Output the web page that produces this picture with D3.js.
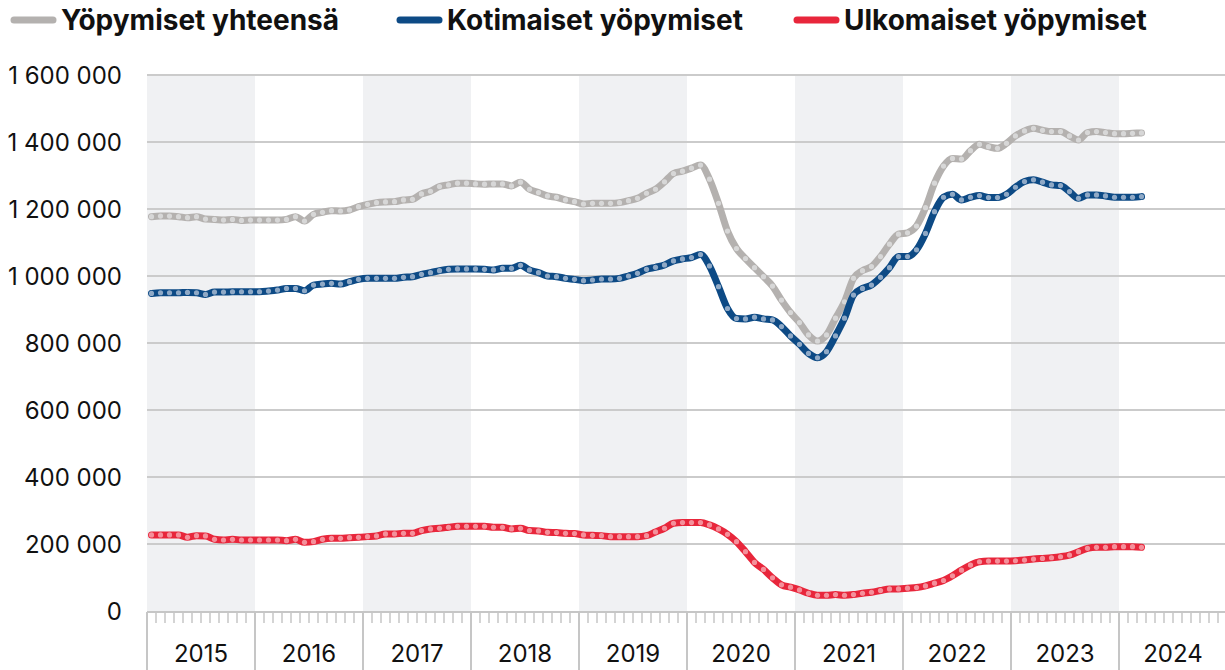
<!DOCTYPE html>
<html lang="fi">
<head>
<meta charset="utf-8">
<title>Yöpymiset</title>
<script src="https://d3js.org/d3.v7.min.js"></script>
<style>
  body { margin: 0; background: #fff; }
  text { font-family: Inter, "Noto Sans", sans-serif; }
</style>
</head>
<body>
<script>
// monthly values, thousands, Jan 2015 - Mar 2024
var years = [2015, 2016, 2017, 2018, 2019, 2020, 2021, 2022, 2023, 2024];

var yhteensa = [
  1177,1179,1179,1177,1174,1177,1170,1169,1167,1169,1166,1167,
  1167,1167,1167,1169,1177,1164,1184,1190,1195,1194,1197,1207,
  1214,1219,1221,1222,1227,1229,1245,1253,1267,1272,1277,1277,
  1275,1274,1275,1275,1269,1280,1259,1249,1239,1235,1227,1222,
  1215,1217,1217,1217,1219,1225,1232,1247,1259,1281,1306,1313,
  1322,1331,1289,1217,1134,1082,1052,1025,998,970,928,891,
  861,824,806,824,874,923,993,1016,1028,1058,1095,1125,
  1129,1149,1204,1277,1328,1351,1349,1374,1393,1386,1381,1396,
  1418,1433,1441,1435,1431,1431,1418,1406,1428,1431,1428,1425,
  1425,1426,1427
];

var kotimaiset = [
  948,950,950,950,951,950,945,952,952,953,953,953,
  953,955,958,963,963,956,973,976,978,976,983,990,
  993,993,993,993,996,998,1005,1010,1016,1020,1021,1021,
  1021,1020,1018,1023,1023,1032,1018,1010,1000,998,993,990,
  986,988,991,991,993,1000,1008,1020,1026,1033,1045,1051,
  1055,1064,1030,968,903,873,872,877,872,869,849,821,
  796,769,756,774,821,874,943,963,973,996,1025,1058,
  1058,1078,1127,1192,1235,1244,1227,1235,1240,1234,1234,1244,
  1265,1282,1287,1280,1272,1270,1252,1232,1242,1242,1239,1235,
  1235,1235,1237
];

var ulkomaiset = [
  227,227,227,227,220,225,224,214,212,214,212,212,
  212,212,212,210,214,205,207,214,217,217,219,220,
  222,224,230,230,232,232,240,245,247,250,253,253,
  253,253,250,250,245,247,240,239,235,234,232,231,
  227,226,225,222,222,222,222,225,236,247,262,264,
  264,264,257,245,229,207,177,145,124,99,78,71,
  63,53,47,47,49,47,49,53,56,61,66,66,
  68,70,75,83,91,105,122,137,147,149,149,149,
  150,152,155,157,159,162,167,177,187,190,190,192,
  192,192,190
];

var seriesNames = ["Yöpymiset yhteensä", "Kotimaiset yöpymiset", "Ulkomaiset yöpymiset"];
var yTicks = [0, 200000, 400000, 600000, 800000, 1000000, 1200000, 1400000, 1600000];

var width = 1225, height = 670;
var plotLeft = 147, plotRight = 1227, plotTop = 75, plotBottom = 611;

var svg = d3.select("body").append("svg")
  .attr("width", width)
  .attr("height", height);

var x = d3.scaleLinear().domain([0, years.length * 12]).range([plotLeft, plotRight]);
var y = d3.scaleLinear().domain([0, 1600000]).range([plotBottom, plotTop]);

var fi = d3.formatLocale({ decimal: ",", thousands: " ", grouping: [3], currency: ["", " €"] });
var fmt = fi.format(",d");

// alternating year bands
svg.append("g").selectAll("rect")
  .data(years.filter(function(d, i) { return i % 2 == 0; }))
  .enter().append("rect")
  .attr("x", function(d) { return x((d - 2015) * 12); })
  .attr("width", function(d) { return x(12) - x(0); })
  .attr("y", plotTop)
  .attr("height", plotBottom - plotTop + 1)
  .attr("fill", "#f0f1f3");

// gridlines
svg.append("g").selectAll("line")
  .data(yTicks.slice(1))
  .enter().append("line")
  .attr("x1", plotLeft).attr("x2", width)
  .attr("y1", function(d) { return y(d); })
  .attr("y2", function(d) { return y(d); })
  .attr("stroke", "#cbcbcb")
  .attr("stroke-width", 2);

// y labels
svg.append("g").selectAll("text")
  .data(yTicks)
  .enter().append("text")
  .attr("x", 122)
  .attr("y", function(d) { return y(d); })
  .attr("dy", "0.36em")
  .attr("text-anchor", "end")
  .attr("font-size", 24)
  .attr("fill", "#111")
  .text(function(d) { return fmt(d); });

// x axis: month ticks, year lines, year labels
var axisY = plotBottom + 1;
svg.append("g").selectAll("line")
  .data(d3.range(0, years.length * 12 + 1))
  .enter().append("line")
  .attr("x1", function(d) { return x(d); })
  .attr("x2", function(d) { return x(d); })
  .attr("y1", axisY)
  .attr("y2", function(d) { return d % 12 == 0 ? height : axisY + 11; })
  .attr("stroke", "#c6c6c6")
  .attr("stroke-width", function(d) { return d % 12 == 0 ? 2 : 1.5; });

svg.append("line")
  .attr("x1", plotLeft).attr("x2", width)
  .attr("y1", axisY).attr("y2", axisY)
  .attr("stroke", "#c6c6c6")
  .attr("stroke-width", 2);

svg.append("g").selectAll("text")
  .data(years)
  .enter().append("text")
  .attr("x", function(d) { return x((d - 2015) * 12 + 6); })
  .attr("y", 653)
  .attr("dy", "0.36em")
  .attr("text-anchor", "middle")
  .attr("font-size", 24)
  .attr("fill", "#111")
  .text(function(d) { return d; });

// lines
var series = [
  { name: seriesNames[0], values: yhteensa, color: "#b4b1af", dot: "#d7d7d7" },
  { name: seriesNames[1], values: kotimaiset, color: "#0d4a85", dot: "#8fa9c6" },
  { name: seriesNames[2], values: ulkomaiset, color: "#e8263b", dot: "#f4909b" }
];

var line = d3.line()
  .x(function(d, i) { return x(i + 0.5); })
  .y(function(d) { return y(d * 1000); })
  .curve(d3.curveMonotoneX);

series.forEach(function(s) {
  var g = svg.append("g");
  g.append("path")
    .attr("d", line(s.values))
    .attr("fill", "none")
    .attr("stroke", s.color)
    .attr("stroke-width", 7)
    .attr("stroke-linecap", "round")
    .attr("stroke-linejoin", "round");
  g.selectAll("circle")
    .data(s.values)
    .enter().append("circle")
    .attr("cx", function(d, i) { return x(i + 0.5); })
    .attr("cy", function(d) { return y(d * 1000); })
    .attr("r", 2.6)
    .attr("fill", s.dot);
});

// legend
var legendX = [12, 398, 795];
var legend = svg.append("g").selectAll("g")
  .data(series)
  .enter().append("g")
  .attr("transform", function(d, i) { return "translate(" + legendX[i] + ",20)"; });

legend.append("line")
  .attr("x1", 2).attr("x2", 41)
  .attr("stroke", function(d) { return d.color; })
  .attr("stroke-width", 7)
  .attr("stroke-linecap", "round");

legend.append("text")
  .attr("x", 49)
  .attr("dy", "0.36em")
  .attr("font-size", 28)
  .attr("font-weight", 700)
  .attr("fill", "#111")
  .text(function(d) { return d.name; });
</script>
</body>
</html>
